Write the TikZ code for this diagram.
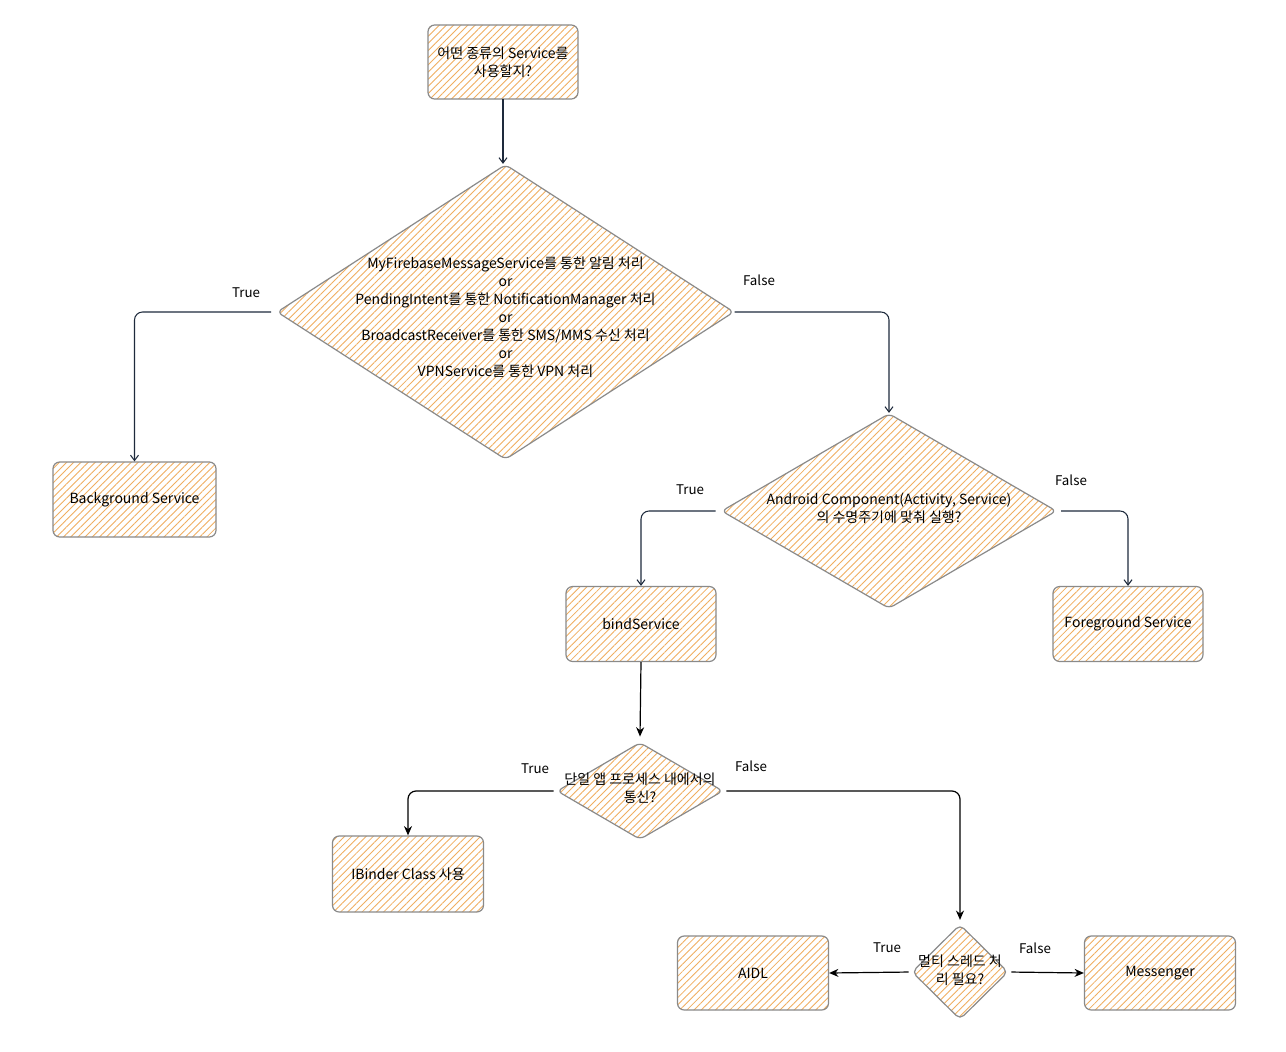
\documentclass[tikz,border=0pt]{standalone}
\usepackage{fontspec}
\setmainfont{Noto Sans CJK KR}
\usetikzlibrary{shapes.geometric,arrows.meta,patterns.meta}
\definecolor{edgegray}{HTML}{8A8A8A}
\definecolor{hatch}{HTML}{F0AE60}
\definecolor{navy}{HTML}{1E2A3C}
\tikzset{
  hatchfill/.style={pattern={Lines[angle=45,distance=3.8pt,line width=0.65pt]},pattern color=hatch},
  boxnode/.style={rectangle,rounded corners=5pt,draw=edgegray,line width=0.9pt,hatchfill,
     inner sep=1pt,align=center,font=\fontsize{10.5}{13.5}\selectfont},
  dianode/.style={diamond,rounded corners=4pt,draw=edgegray,line width=0.9pt,hatchfill,
     inner sep=0pt,font=\fontsize{10.5}{13.5}\selectfont},
  lbl/.style={font=\fontsize{10}{12}\selectfont,inner sep=1pt},
  conn/.style={draw=navy,line width=0.8pt,rounded corners=6pt,-{Straight Barb[length=4pt,width=6pt]}},
  connb/.style={draw=black,line width=0.9pt,rounded corners=6pt,-{Stealth[length=7pt,width=6pt]}},
}
\newcommand{\dtext}[2][-2pt]{\smash{\makebox[0pt]{\raisebox{#1}{\begin{tabular}{@{}c@{}}#2\end{tabular}}}}}
\begin{document}
\begin{tikzpicture}[x=0.75pt,y=-0.75pt]
\useasboundingbox (0,0) rectangle (1286,1052);
\fill[white] (0,0) rectangle (1286,1052);

% boxes
\node[boxnode,minimum width=112.5pt,minimum height=55.5pt] (s) at (503,62) {어떤 종류의 Service를\\사용할지?};
\node[boxnode,minimum width=122.25pt,minimum height=56.25pt] (bg) at (134.5,499.5) {Background Service};
\node[boxnode,minimum width=112.5pt,minimum height=56.25pt] (bind) at (641,624) {bindService};
\node[boxnode,minimum width=112.5pt,minimum height=56.25pt] (fg) at (1128,624) {Foreground Service};
\node[boxnode,minimum width=113.25pt,minimum height=57pt] (ib) at (408,874) {IBinder Class 사용};
\node[boxnode,minimum width=113.25pt,minimum height=55.5pt] (aidl) at (753,973) {AIDL};
\node[boxnode,minimum width=113.25pt,minimum height=55.5pt] (msg) at (1160,973) {Messenger};

% diamonds
\node[dianode,minimum width=342.75pt,minimum height=221.25pt] (d1) at (505.5,312)
  {\dtext[-8pt]{MyFirebaseMessageService를 통한 알림 처리\\or\\PendingIntent를 통한 NotificationManager 처리\\or\\BroadcastReceiver를 통한 SMS/MMS 수신 처리\\or\\VPNService를 통한 VPN 처리}};
\node[dianode,minimum width=251.25pt,minimum height=146.25pt] (d2) at (889,511)
  {\dtext{Android Component(Activity, Service)\\의 수명주기에 맞춰 실행?}};
\node[dianode,minimum width=124.5pt,minimum height=72.75pt] (d3) at (640,791)
  {\dtext{단일 앱 프로세스 내에서의\\통신?}};
\node[dianode,minimum width=72pt,minimum height=71.25pt] (d4) at (960,972)
  {\dtext[-3pt]{멀티 스레드 처\\리 필요?}};

% connectors
\draw[conn] (s.south) -- (s.south |- d1.north);
\draw[conn,shorten <=4pt] (d1.west) -| (bg.north);
\draw[conn] (d1.east) -| (d2.north);
\draw[conn,shorten <=4pt] (d2.west) -| (bind.north);
\draw[conn,shorten <=3pt] (d2.east) -| (fg.north);
\draw[connb] (bind.south) -- ([yshift=4pt]d3.north);
\draw[connb,shorten <=2pt] (d3.west) -| (ib.north);
\draw[connb,shorten <=2pt] (d3.east) -| ([yshift=3pt]d4.north);
\draw[connb,shorten <=2pt] (d4.west) -- (aidl.east);
\draw[connb,shorten <=2pt] (d4.east) -- (msg.west);

% labels
\node[lbl] (t1) at (246,293) {True};
\node[lbl] (f1) at (759,280) {False};
\node[lbl] (t2) at (690,490) {True};
\node[lbl] (f2) at (1071,480) {False};
\node[lbl] (t3) at (535,769) {True};
\node[lbl] (f3) at (751,766) {False};
\node[lbl] (t4) at (887,948) {True};
\node[lbl] (f4) at (1035,948) {False};
\end{tikzpicture}
\end{document}
